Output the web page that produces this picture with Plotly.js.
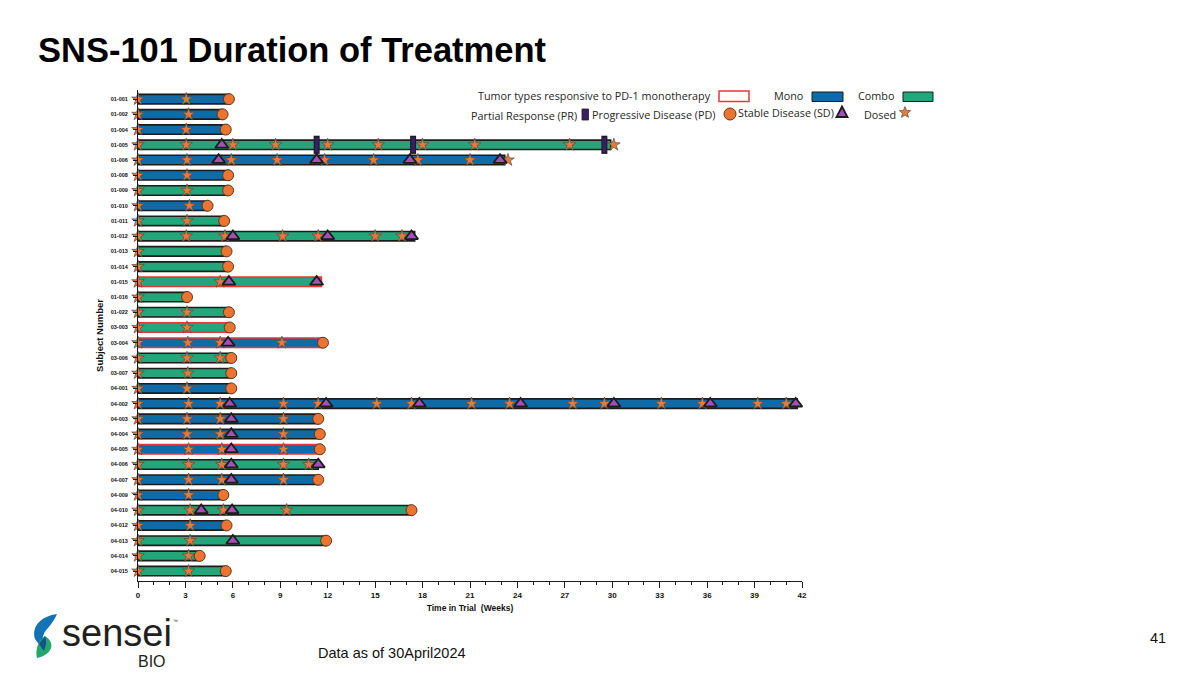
<!DOCTYPE html>
<html>
<head>
<meta charset="utf-8">
<script src="https://cdn.plot.ly/plotly-3.0.1.min.js"></script>
<style>
html,body{margin:0;padding:0;background:#fff;}
#chart{width:1200px;height:675px;}
</style>
</head>
<body>
<div id="chart"></div>
<script>
// ---------------- DATA ----------------
const subjects = ['01-001','01-002','01-004','01-005','01-006','01-008','01-009','01-010','01-011','01-012',
  '01-013','01-014','01-015','01-016','01-022','03-003','03-004','03-006','03-007','04-001',
  '04-002','04-003','04-004','04-005','04-006','04-007','04-009','04-010','04-012','04-013','04-014','04-015'];
const arm = ['Mono','Mono','Mono','Combo','Mono','Mono','Combo','Mono','Combo','Combo',
  'Combo','Combo','Combo','Combo','Combo','Combo','Mono','Combo','Combo','Mono',
  'Mono','Mono','Mono','Mono','Combo','Mono','Mono','Combo','Mono','Combo','Combo','Combo'];
const weeksOnTrial = [5.75,5.35,5.55,29.9,23.2,5.7,5.7,4.4,5.45,17.5,
  5.6,5.7,11.6,3.1,5.75,5.8,11.7,5.9,5.9,5.9,
  41.7,11.4,11.5,11.5,11.4,11.4,5.4,17.3,5.6,11.9,3.9,5.55];
const pd1Responsive = ['01-015','03-003','03-004','04-005'];
const progressiveDisease = ['01-001','01-002','01-004','01-008','01-009','01-010','01-011','01-013','01-014','01-016',
  '01-022','03-003','03-004','03-006','03-007','04-001','04-003','04-004','04-005','04-007',
  '04-009','04-010','04-012','04-013','04-014','04-015'];
const dosedWeeks = [
  [0,3.05],[0,3.2],[0,3.05],
  [0,3.05,6.0,8.7,12.0,15.2,18.0,21.3,27.3,30.1],
  [0,3.1,5.9,8.8,11.8,14.9,17.7,21.0,23.4],
  [0,3.1],[0,3.1],[0,3.25],[0,3.1],
  [0,3.05,5.5,9.15,11.4,15.0,16.7],
  [0],[0],[0,5.2],[0],[0,3.1],[0,3.1],
  [0,3.15,5.2,9.1],[0,3.1,5.2],[0,3.15],[0,3.1],
  [0,3.2,5.2,9.2,11.4,15.1,17.3,21.1,23.5,27.5,29.5,33.1,35.7,39.2,41.0],
  [0,3.1,5.2,9.2],[0,3.1,5.2,9.2],[0,3.2,5.3,9.2],[0,3.2,5.3,9.2,10.8],[0,3.2,5.3,9.2],
  [0,3.2],[0,3.3,5.4,9.4],[0,3.3],[0,3.3],[0,3.2],[0,3.2]
];
const sdSubjects = ['01-005','01-006','01-012','01-015','03-004','04-002','04-003','04-004','04-005','04-006','04-007','04-010','04-013'];
const sdWeeks = [[5.3],[5.1,11.3,17.2,22.9],[6.0,12.0,17.3],[5.75,11.3],[5.7],
  [5.8,11.9,17.8,24.2,30.1,36.2,41.6],[5.9],[5.9],[5.9],[5.9,11.4],[5.9],[4.0,5.95],[6.0]];
const prSubjects = ['01-005'];
const prWeeks = [[11.3,17.4,29.5]];
const xTicks = [0,3,6,9,12,15,18,21,24,27,30,33,36,39,42];

// ---------------- STYLE ----------------
const MONO = '#0E6BA8', COMBO = '#23A77A', RED = '#E8373A', DARK = '#1c1c1c';
const STAR = '#E57A3B', PDC = '#EC7430', SDC = '#A64FBA', PRC = '#3A1C6B';
const F = 'Liberation Sans, Arial, sans-serif';

function flat(subs, lists){
  const x=[], y=[];
  subs.forEach((s,i)=>lists[i].forEach(v=>{x.push(v);y.push(s);}));
  return {x,y};
}
const dosed = flat(subjects, dosedWeeks);
const sd = flat(sdSubjects, sdWeeks);
const pr = flat(prSubjects, prWeeks);
const pdX = progressiveDisease.map(s=>weeksOnTrial[subjects.indexOf(s)]);

function armBar(name,color){
  const idx = subjects.map((s,i)=>i).filter(i=>arm[i]===name);
  return {
    type:'bar', orientation:'h', name:name,
    y: idx.map(i=>subjects[i]), x: idx.map(i=>weeksOnTrial[i]), base:0,
    width:0.62,
    marker:{color:color, line:{color: idx.map(i=>pd1Responsive.includes(subjects[i])?RED:DARK), width:1.6}},
    showlegend:false, hoverinfo:'x+y'
  };
}

const traces = [
  armBar('Mono',MONO), armBar('Combo',COMBO),
  {type:'scatter',mode:'markers',x:dosed.x,y:dosed.y,cliponaxis:false,showlegend:false,
   marker:{symbol:'star',size:9.5,color:STAR,line:{color:'#5a4a3a',width:0.7}}},
  {type:'scatter',mode:'markers',x:pr.x,y:pr.y,cliponaxis:false,showlegend:false,
   marker:{symbol:'line-ns',size:13,line:{color:DARK,width:6}}},
  {type:'scatter',mode:'markers',x:pr.x,y:pr.y,cliponaxis:false,showlegend:false,
   marker:{symbol:'line-ns',size:11,line:{color:PRC,width:4}}},
  {type:'scatter',mode:'markers',x:sd.x,y:sd.y,cliponaxis:false,showlegend:false,
   marker:{symbol:'triangle-up',size:11.5,color:SDC,line:{color:DARK,width:1.8}}},
  {type:'scatter',mode:'markers',x:pdX,y:progressiveDisease,cliponaxis:false,showlegend:false,
   marker:{symbol:'circle',size:11,color:PDC,line:{color:'#5a3a20',width:1}}}
];

// pixel -> paper helpers (plot area: x 138..802, y 90..581)
const L=138, R=802, T=90, B=581;
const px = p => (p-L)/(R-L);
const py = p => (B-p)/(B-T);
function pathPx(cmds){
  let out='', k=0;
  cmds.forEach(c=>{
    if(typeof c==='string'){out+=c+' '; k=0;}
    else {out += (k%2===0? px(c).toFixed(5) : py(c).toFixed(5)) + (k%2===0?',':' '); k++;}
  });
  return out.trim();
}
function rectPx(x0,y0,x1,y1,fill,line,lw){
  return {type:'rect',xref:'paper',yref:'paper',x0:px(x0),x1:px(x1),y0:py(y1),y1:py(y0),
    fillcolor:fill,line:{color:line,width:lw}};
}
function textPx(t,x,y,opts){
  return Object.assign({xref:'paper',yref:'paper',x:px(x),y:py(y),text:t,showarrow:false,
    xanchor:'right',yanchor:'middle',font:{family:'Open Sans, sans-serif',size:10.8,color:'#262626'}},opts||{});
}
function starPath(cx,cy,ro,ri){
  const c=[];
  for(let k=0;k<10;k++){
    const a=-Math.PI/2+k*Math.PI/5, r=(k%2===0)?ro:ri;
    c.push(k===0?'M':'L', cx+r*Math.cos(a), cy+r*Math.sin(a));
  }
  c.push('Z');
  return pathPx(c);
}

const shapes = [
  rectPx(719,91,749,101.5,'#ffffff',RED,1.5),
  rectPx(812,92,843,101.5,MONO,DARK,1),
  rectPx(903,92,933,101.5,COMBO,DARK,1),
  rectPx(582,109,588.5,120,PRC,DARK,0.8),
  {type:'circle',xref:'paper',yref:'paper',x0:px(724),x1:px(736),y0:py(120),y1:py(108),
   fillcolor:PDC,line:{color:'#5a3a20',width:1}},
  {type:'path',xref:'paper',yref:'paper',fillcolor:SDC,line:{color:DARK,width:1.8},
   path:pathPx(['M',842,106.5,'L',847.5,117,'L',836.5,117,'Z'])},
  {type:'path',xref:'paper',yref:'paper',fillcolor:STAR,line:{color:'#5a4a3a',width:0.7},
   path:starPath(905,112.5,6,2.6)},
  // logo icon
  {type:'path',xref:'paper',yref:'paper',fillcolor:'#1273B5',line:{width:0},
   path:pathPx(['M',57,614,'C',42,616,31,626,35,639,'L',44,651,'C',41,642,42,634,48,628,'C',52,623,55,619,57,614,'Z'])},
  {type:'path',xref:'paper',yref:'paper',fillcolor:'#22A86E',line:{width:0},
   path:pathPx(['M',45,636,'C',55,642,54,654,37,658,'C',35,650,38,641,45,636,'Z'])},
  {type:'path',xref:'paper',yref:'paper',fillcolor:'#1A4E8C',line:{width:0},
   path:pathPx(['M',45,636,'C',47,641,46,646,44,651,'L',39,644,'Z'])}
];

const annotations = [
  textPx('Tumor types responsive to PD-1 monotherapy',713,96),
  textPx('Mono',805,96),
  textPx('Combo',896,96),
  textPx('Partial Response (PR)',579,115),
  textPx('Progressive Disease (PD)',718,114),
  textPx('Stable Disease (SD)',836,113),
  textPx('Dosed',898,114),
  // logo text
  {xref:'paper',yref:'paper',x:px(60),y:py(633),text:'sensei',showarrow:false,xanchor:'left',yanchor:'middle',
   font:{family:F,size:38,color:'#231f20'}},
  {xref:'paper',yref:'paper',x:px(136),y:py(661),text:'BIO',showarrow:false,xanchor:'left',yanchor:'middle',
   font:{family:F,size:16,color:'#231f20'}},
  {xref:'paper',yref:'paper',x:px(171),y:py(621),text:'™',showarrow:false,xanchor:'left',yanchor:'middle',
   font:{family:F,size:5,color:'#231f20'}},
  {xref:'paper',yref:'paper',x:px(316),y:py(653),text:'Data as of 30April2024',showarrow:false,xanchor:'left',yanchor:'middle',
   font:{family:F,size:14.5,color:'#111'}},
  {xref:'paper',yref:'paper',x:px(1168),y:py(638),text:'41',showarrow:false,xanchor:'right',yanchor:'middle',
   font:{family:F,size:14.5,color:'#111'}}
];

const layout = {
  width:1200, height:675,
  margin:{l:L, r:1200-R, t:T, b:675-B, pad:0},
  paper_bgcolor:'#fff', plot_bgcolor:'#fff',
  barmode:'overlay',
  showlegend:false,
  title:{text:'SNS-101 Duration of Treatment', x:38/1200, xref:'container', xanchor:'left',
    y:1-50/675, yref:'container', yanchor:'middle',
    font:{family:F, size:34.5, color:'#000', weight:'bold'}},
  xaxis:{range:[0,42], tickvals:xTicks, ticktext:xTicks.map(String), showgrid:false, zeroline:false,
    showline:true, linecolor:DARK, linewidth:1, ticks:'outside', ticklen:6, tickwidth:1, tickcolor:DARK,
    minor:{dtick:1, tick0:0, ticks:'outside', ticklen:3, tickcolor:DARK, showgrid:false},
    tickfont:{family:F,size:8,color:'#111',weight:'bold'},
    title:{text:'Time in Trial  (Weeks)', standoff:6, font:{family:F,size:8.5,color:'#111',weight:'bold'}}},
  yaxis:{type:'category', categoryorder:'array', categoryarray:subjects, range:[31.65,-0.6],
    showgrid:false, zeroline:false, showline:true, linecolor:DARK, linewidth:1,
    ticks:'outside', ticklen:4, tickcolor:DARK, ticklabelstandoff:4,
    tickfont:{family:F,size:5.5,color:'#111',weight:'bold'},
    title:{text:'Subject Number', standoff:5, font:{family:F,size:9.5,color:'#111',weight:'bold'}}},
  shapes:shapes,
  annotations:annotations
};

Plotly.newPlot('chart', traces, layout, {displayModeBar:false, staticPlot:true});
</script>
</body>
</html>
